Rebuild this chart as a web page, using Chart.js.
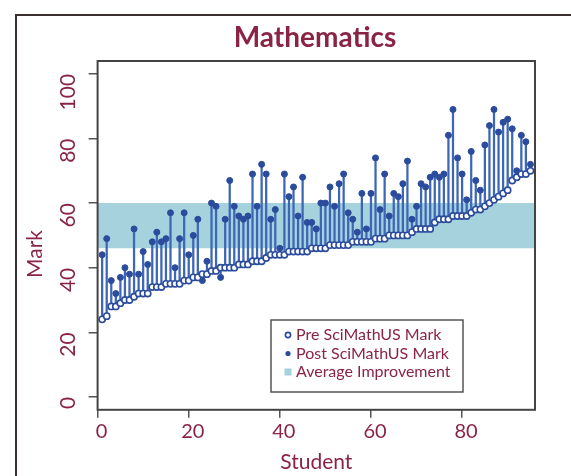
<!DOCTYPE html>
<html>
<head>
<meta charset="utf-8">
<script src="https://cdn.jsdelivr.net/npm/chart.js@4.4.0/dist/chart.umd.min.js"></script>
<style>
  html, body { margin: 0; padding: 0; background: #fff; }
  #wrap { width: 571px; height: 476px; }
</style>
</head>
<body>
<div id="wrap"><canvas id="chart"></canvas></div>
<script>
// marks per student, students sorted by pre mark
const preMarks = [24, 25, 28, 28, 29, 30, 30, 31, 32, 32, 32, 34, 34, 34, 35, 35, 35, 35, 36, 36,
  37, 37, 38, 38, 39, 39, 40, 40, 40, 40, 41, 41, 41, 42, 42, 42, 43, 44, 44, 44,
  44, 45, 45, 45, 45, 45, 46, 46, 46, 46, 47, 47, 47, 47, 47, 48, 48, 48, 48, 48,
  49, 49, 49, 50, 50, 50, 50, 50, 51, 52, 52, 52, 52, 54, 55, 55, 55, 56, 56, 56,
  56, 57, 58, 58, 59, 60, 61, 62, 63, 64, 67, 68, 69, 69, 70];
const postMarks = [44, 49, 36, 32, 37, 40, 38, 52, 38, 45, 41, 48, 51, 48, 49, 57, 40, 49, 57, 44,
  50, 55, 36, 42, 60, 59, 37, 55, 67, 59, 56, 55, 56, 69, 59, 72, 69, 55, 58, 46,
  69, 62, 65, 56, 68, 54, 54, 52, 60, 60, 65, 59, 66, 69, 57, 55, 51, 63, 52, 63,
  74, 58, 69, 56, 63, 62, 66, 73, 55, 59, 66, 65, 68, 69, 68, 69, 81, 89, 74, 69,
  61, 76, 67, 64, 78, 84, 89, 82, 85, 86, 83, 70, 81, 79, 72];
const bandRange = [46, 60];
const xTicks = [0, 20, 40, 60, 80];
const yTicks = [0, 20, 40, 60, 80, 100];
const legendLabels = ['Pre SciMathUS Mark', 'Post SciMathUS Mark', 'Average Improvement'];

const maroon = '#8a2445';
const dotBlue = '#2b4c9c';
const stemBlue = '#3d66b6';
const bandBlue = '#a6d2de';
const font = 'Lato';

// outer page frame, title and y title
const framePlugin = {
  id: 'frame',
  beforeDraw(chart) {
    const ctx = chart.ctx;
    ctx.save();
    ctx.fillStyle = '#fff';
    ctx.fillRect(0, 0, chart.width, chart.height);
    ctx.strokeStyle = '#3a3030';
    ctx.lineWidth = 2;
    ctx.beginPath();
    ctx.moveTo(16, chart.height);
    ctx.lineTo(16, 15);
    ctx.lineTo(chart.width, 15);
    ctx.stroke();

    ctx.fillStyle = maroon;
    ctx.textAlign = 'center';
    ctx.textBaseline = 'middle';
    ctx.font = 'bold 28px ' + font;
    ctx.fillText('Mathematics', 315, 38);

    ctx.translate(35, 254);
    ctx.rotate(-Math.PI / 2);
    ctx.font = '21px ' + font;
    ctx.fillText('Mark', 0, 0);
    ctx.restore();
  }
};

// plot box + legend
const boxPlugin = {
  id: 'box',
  afterDatasetsDraw(chart) {
    const ctx = chart.ctx;
    const a = chart.chartArea;
    ctx.save();
    ctx.strokeStyle = '#444';
    ctx.lineWidth = 2;
    ctx.strokeRect(a.left, a.top, a.right - a.left, a.bottom - a.top);

    // legend
    const lx = 271, ly = 320, lw = 192, lh = 72;
    ctx.fillStyle = '#fff';
    ctx.fillRect(lx, ly, lw, lh);
    ctx.lineWidth = 1.5;
    ctx.strokeStyle = '#555';
    ctx.strokeRect(lx, ly, lw, lh);
    ctx.font = '16px ' + font;
    ctx.textBaseline = 'middle';
    legendLabels.forEach((txt, i) => {
      const cy = ly + 15 + i * 18.5;
      const mx = lx + 17;
      if (i === 0) {
        ctx.beginPath();
        ctx.arc(mx, cy, 2.6, 0, Math.PI * 2);
        ctx.fillStyle = '#fff';
        ctx.fill();
        ctx.strokeStyle = dotBlue;
        ctx.lineWidth = 1.6;
        ctx.stroke();
      } else if (i === 1) {
        ctx.beginPath();
        ctx.arc(mx, cy, 2.6, 0, Math.PI * 2);
        ctx.fillStyle = dotBlue;
        ctx.fill();
      } else {
        ctx.fillStyle = bandBlue;
        ctx.fillRect(mx - 3.5, cy - 3.5, 7, 7);
      }
      ctx.fillStyle = maroon;
      ctx.fillText(txt, lx + 25, cy);
    });
    ctx.restore();
  }
};

const ctx = document.getElementById('chart').getContext('2d');
new Chart(ctx, {
  type: 'scatter',
  data: {
    datasets: [
      {
        label: legendLabels[0],
        data: preMarks.map((v, i) => ({ x: i + 1, y: v })),
        backgroundColor: '#fff',
        borderColor: dotBlue,
        borderWidth: 1.6,
        pointRadius: 3.1,
        order: 0
      },
      {
        label: legendLabels[1],
        data: postMarks.map((v, i) => ({ x: i + 1, y: v })),
        backgroundColor: dotBlue,
        borderColor: dotBlue,
        borderWidth: 1,
        pointRadius: 3,
        order: 1
      },
      {
        type: 'bar',
        label: 'stems',
        data: preMarks.map((v, i) => ({ x: i + 1, y: [v, postMarks[i]] })),
        backgroundColor: stemBlue,
        barThickness: 1.6,
        order: 2
      },
      {
        type: 'line',
        label: legendLabels[2],
        data: [{ x: 0, y: bandRange[1] }, { x: 96, y: bandRange[1] }],
        fill: { value: bandRange[0] },
        backgroundColor: bandBlue,
        borderWidth: 0,
        pointRadius: 0,
        order: 3
      }
    ]
  },
  options: {
    responsive: true,
    maintainAspectRatio: false,
    animation: false,
    layout: { padding: { left: 20, right: 36, top: 61, bottom: 1 } },
    plugins: {
      legend: { display: false },
      tooltip: { enabled: false },
      title: { display: false }
    },
    scales: {
      x: {
        type: 'linear',
        min: 0,
        max: 96,
        offset: false,
        afterBuildTicks: s => { s.ticks = xTicks.map(v => ({ value: v })); },
        ticks: { color: maroon, font: { family: font, size: 20 }, padding: 2, labelOffset: 4 },
        grid: { offset: false, drawOnChartArea: false, drawTicks: true, tickLength: 8, color: '#555', lineWidth: 1.5 },
        border: { display: false },
        title: { display: true, text: 'Student', color: maroon, font: { family: font, size: 21 }, padding: { top: 4, bottom: 0 } }
      },
      y: {
        min: -4,
        max: 104,
        afterBuildTicks: s => { s.ticks = yTicks.map(v => ({ value: v })); },
        afterFit: s => { s.width = 77.6; },
        ticks: { color: maroon, font: { family: font, size: 21 }, padding: 20, minRotation: 90, maxRotation: 90 },
        grid: { drawOnChartArea: false, drawTicks: true, tickLength: 9, color: '#555', lineWidth: 1.5 },
        border: { display: false }
      }
    }
  },
  plugins: [framePlugin, boxPlugin]
});
</script>
</body>
</html>
